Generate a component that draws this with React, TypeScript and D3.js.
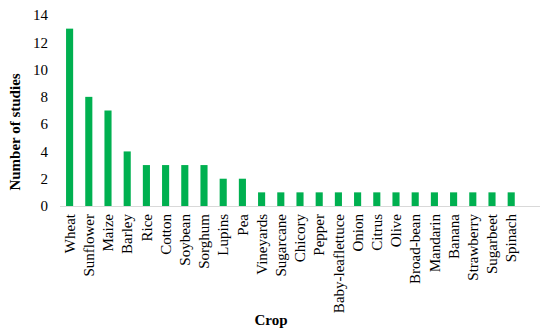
import React from "react";
import * as d3 from "d3";

const crops = [
  "Wheat", "Sunflower", "Maize", "Barley", "Rice", "Cotton", "Soybean", "Sorghum",
  "Lupins", "Pea", "Vineyards", "Sugarcane", "Chicory", "Pepper", "Baby-leaflettuce",
  "Onion", "Citrus", "Olive", "Broad-bean", "Mandarin", "Banana", "Strawberry",
  "Sugarbeet", "Spinach"
];
const studies = [13, 8, 7, 4, 3, 3, 3, 3, 2, 2, 1, 1, 1, 1, 1, 1, 1, 1, 1, 1, 1, 1, 1, 1];
const yTicks = [0, 2, 4, 6, 8, 10, 12, 14];

const width = 550;
const height = 335;
const left = 60;
const right = 540;
const top = 15;
const bottom = 206;

const font = { fontFamily: '"Liberation Serif", "Times New Roman", Times, serif' };

const App = () => {
  // the axis line leaves room for one empty slot at the right end
  const step = (right - left) / (crops.length + 1);
  const x = d3
    .scaleBand()
    .domain(crops)
    .range([left, left + step * crops.length])
    .paddingInner(0.63)
    .paddingOuter(0.315);

  const y = d3.scaleLinear().domain([0, 14]).range([bottom, top]);

  return (
    <svg width={width} height={height} style={{ position: "absolute", left: 0, top: 0 }}>
      {crops.map((c, i) => (
        <rect
          key={c}
          x={x(c)}
          y={y(studies[i])}
          width={x.bandwidth()}
          height={bottom - y(studies[i])}
          fill="#00b050"
        />
      ))}
      <line x1={left} x2={right} y1={bottom + 0.5} y2={bottom + 0.5} stroke="#d9d9d9" strokeWidth={1} />
      {yTicks.map(t => (
        <text key={t} x={48} y={y(t)} dy="0.35em" textAnchor="end" fontSize={15} fill="#000" style={font}>
          {t}
        </text>
      ))}
      {crops.map(c => (
        <text
          key={c}
          transform={`translate(${(x(c) ?? 0) + x.bandwidth() / 2},${bottom + 8}) rotate(-90)`}
          dy="0.35em"
          textAnchor="end"
          fontSize={15}
          fill="#000"
          style={font}
        >
          {c}
        </text>
      ))}
      <text x={271} y={325} textAnchor="middle" fontSize={15} fontWeight="bold" style={font}>
        Crop
      </text>
      <text transform={`translate(20,132) rotate(-90)`} textAnchor="middle" fontSize={15} fontWeight="bold" style={font}>
        Number of studies
      </text>
    </svg>
  );
};

export default App;
